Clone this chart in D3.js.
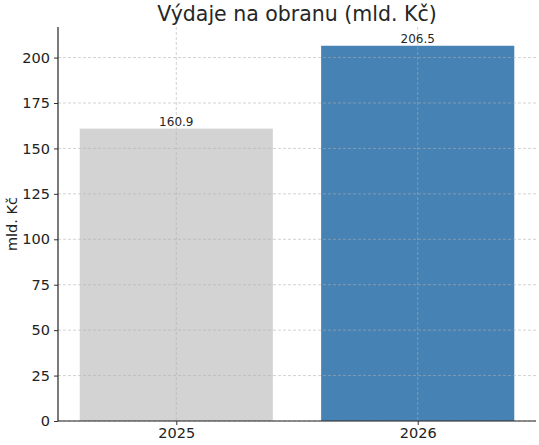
<!DOCTYPE html>
<html>
<head>
<meta charset="utf-8">
<script src="https://cdn.jsdelivr.net/npm/d3@7"></script>
<style>
  body { margin: 0; background: #fff; }
  svg { font-family: "DejaVu Sans", sans-serif; }
</style>
</head>
<body>
<div id="chart"></div>
<script>
const years = ["2025", "2026"]
const values = [160.9, 206.5]
const barColors = ["#d3d3d3", "#4682b4"]
const yTicks = [0, 25, 50, 75, 100, 125, 150, 175, 200]

const W = 539, H = 445
const margin = { left: 58, right: 3, top: 27, bottom: 24 }

const svg = d3.select("#chart").append("svg")
    .attr("width", W)
    .attr("height", H)

// categories sit at 0 and 1, bars are 0.8 wide, 5% margin like matplotlib
const xscale = d3.scaleLinear()
    .domain([-0.49, 1.49])
    .range([margin.left, W - margin.right])

const yscale = d3.scaleLinear()
    .domain([0, d3.max(values) * 1.05])
    .range([H - margin.bottom, margin.top])

const barW = xscale(0.8) - xscale(0)

// bars
svg.append("g").selectAll("rect")
    .data(values)
    .join("rect")
    .attr("x", (d, i) => xscale(i - 0.4))
    .attr("y", d => yscale(d))
    .attr("width", barW)
    .attr("height", d => yscale(0) - yscale(d))
    .style("fill", (d, i) => barColors[i])

// grid, drawn over the bars
const grid = svg.append("g")
    .style("stroke", "#b0b0b0")
    .style("stroke-opacity", 0.7)
    .style("stroke-width", 0.8)
    .style("stroke-dasharray", "3,2")
grid.selectAll(".hg")
    .data(yTicks)
    .join("line")
    .attr("x1", margin.left)
    .attr("x2", W - margin.right)
    .attr("y1", d => yscale(d))
    .attr("y2", d => yscale(d))
grid.selectAll(".vg")
    .data(years)
    .join("line")
    .attr("x1", (d, i) => xscale(i))
    .attr("x2", (d, i) => xscale(i))
    .attr("y1", margin.top)
    .attr("y2", H - margin.bottom)

// value labels
svg.append("g").selectAll("text")
    .data(values)
    .join("text")
    .attr("x", (d, i) => xscale(i))
    .attr("y", d => yscale(d) - 3)
    .attr("text-anchor", "middle")
    .style("font-size", "12px")
    .style("fill", "#262626")
    .text(d => d.toFixed(1))

// axes
const y_axis = d3.axisLeft(yscale)
    .tickValues(yTicks)
    .tickSize(4)
    .tickPadding(4)
const x_axis = d3.axisBottom(xscale)
    .tickValues([0, 1])
    .tickFormat(i => years[i])
    .tickSize(4)
    .tickPadding(3)

const ya = svg.append("g")
    .attr("transform", "translate(" + margin.left + ",0)")
    .call(y_axis)
const xa = svg.append("g")
    .attr("transform", "translate(0," + (H - margin.bottom) + ")")
    .call(x_axis)

for (const ax of [ya, xa]) {
    ax.select(".domain").attr("d", null)
    ax.selectAll(".tick line").style("stroke", "#333")
    ax.selectAll("text")
        .style("font-size", "14.5px")
        .style("fill", "#222")
        .style("font-family", "DejaVu Sans, sans-serif")
}
// spines (left + bottom only)
svg.append("line")
    .attr("x1", margin.left).attr("x2", margin.left)
    .attr("y1", margin.top).attr("y2", H - margin.bottom)
    .style("stroke", "#222").style("stroke-width", 1.2)
svg.append("line")
    .attr("x1", margin.left).attr("x2", W - margin.right)
    .attr("y1", H - margin.bottom).attr("y2", H - margin.bottom)
    .style("stroke", "#222").style("stroke-width", 1.2)

// title
svg.append("text")
    .attr("x", (margin.left + W - margin.right) / 2)
    .attr("y", 21)
    .attr("text-anchor", "middle")
    .style("font-size", "20.5px")
    .style("fill", "#262626")
    .text("Výdaje na obranu (mld. Kč)")

// y label
svg.append("text")
    .attr("transform", "rotate(-90)")
    .attr("x", -(margin.top + H - margin.bottom) / 2)
    .attr("y", 17)
    .attr("text-anchor", "middle")
    .style("font-size", "14.5px")
    .style("fill", "#222")
    .text("mld. Kč")
</script>
</body>
</html>
